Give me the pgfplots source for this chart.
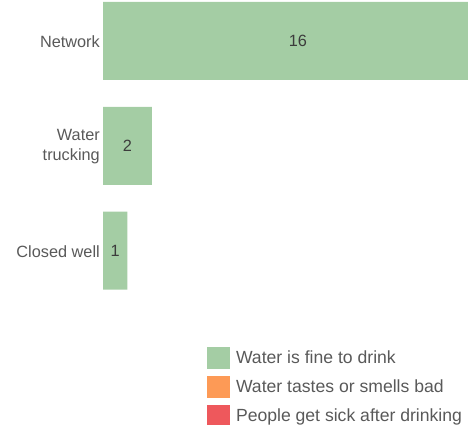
\documentclass[border=0pt]{standalone}
\usepackage{pgfplots}
\pgfplotsset{compat=1.18}
\usepackage{pgfplotstable}
\usepackage{fontspec}
\setmainfont{Liberation Sans}
\definecolor{fine}{RGB}{164,205,164}
\definecolor{tastes}{RGB}{253,154,86}
\definecolor{sick}{RGB}{238,88,92}
\definecolor{lblgray}{RGB}{89,89,89}
\definecolor{valgray}{RGB}{60,60,60}
\pgfplotstableread{
y v
0 16
1 2
2 1
}\datatable
\begin{document}
\begin{tikzpicture}
\useasboundingbox (0,0) rectangle (468pt,-425pt);
\clip (0,0) rectangle (468pt,-425pt);
\begin{axis}[
  at={(103pt,-300pt)}, anchor=south west,
  scale only axis, width=390pt, height=300pt,
  xmin=0, xmax=16,
  ymin=-0.39, ymax=2.47, y dir=reverse,
  hide x axis,
  y axis line style={draw=none},
  major tick length=0pt,
  ytick={0,1,2},
  yticklabels={Network,{Water\\trucking},Closed well},
  yticklabel style={font=\fontsize{16.3}{19.5}\selectfont, text=lblgray, align=right, inner sep=0pt, xshift=-3pt, yshift=-1pt},
  /pgf/number format/assume math mode=true,
  clip=false,
  legend image code/.code={\fill[#1] (0pt,-11pt) rectangle (23pt,11pt);},
  legend style={at={(axis description cs:0.2667,-0.1567)}, anchor=north west, draw=none, fill=none,
    inner sep=0pt, outer sep=0pt, row sep=7pt, column sep=4pt,
    font=\fontsize{17.6}{20}\selectfont, text=lblgray},
  legend cell align=left,
]
\addplot[xbar, bar width=0.743, fill=fine, draw=none] table[x=v, y=y] {\datatable};
\addlegendentry{Water is fine to drink}
\addlegendimage{fill=tastes, draw=none}
\addlegendentry{Water tastes or smells bad}
\addlegendimage{fill=sick, draw=none}
\addlegendentry{People get sick after drinking}
\addplot[draw=none, forget plot, nodes near coords, point meta=explicit,
  every node near coord/.append style={anchor=center, font=\fontsize{16.3}{19.5}\selectfont, text=valgray}]
  table[x expr=\thisrow{v}/2, y=y, meta=v] {\datatable};
\end{axis}
\end{tikzpicture}
\end{document}
